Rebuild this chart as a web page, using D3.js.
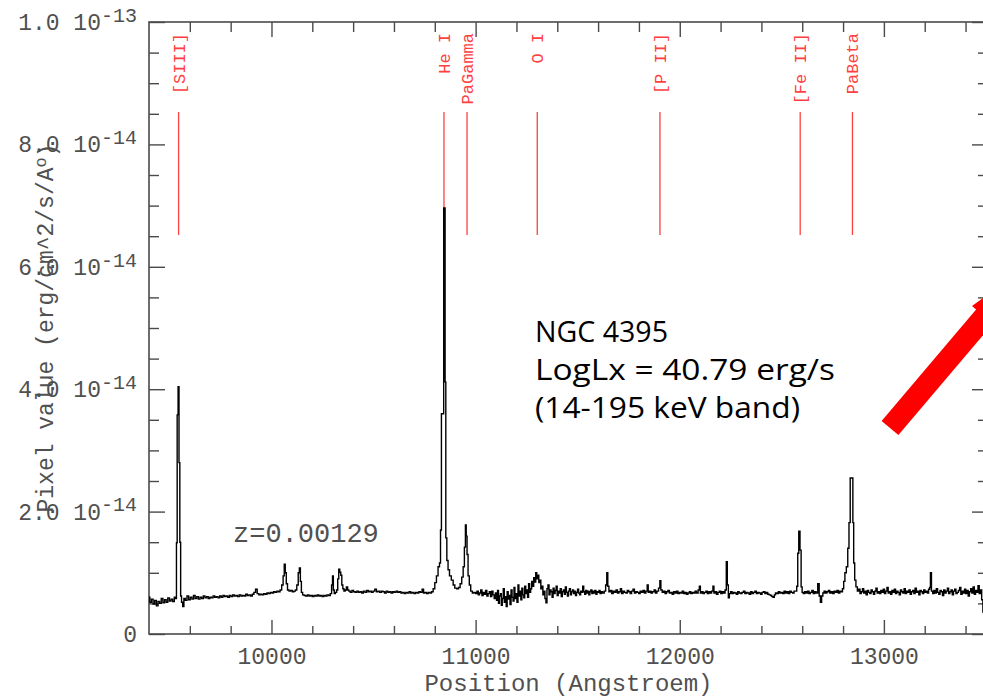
<!DOCTYPE html>
<html>
<head>
<meta charset="utf-8">
<script src="https://cdn.jsdelivr.net/npm/d3@7"></script>
<style>
  body { margin: 0; background: #fff; }
  svg { display: block; }
  .tk { font-family: "Liberation Mono", "DejaVu Sans Mono", monospace; fill: #505050; }
</style>
</head>
<body>
<div id="chart"></div>
<script>
// emission lines marked in red (observed wavelength, Angstrom)
var lineNames = ["[SIII]", "He I", "PaGamma", "O I", "[P II]", "[Fe II]", "PaBeta"];
var lineWaves = [9545, 10845, 10958, 11302, 11903, 12590, 12846];

var xMajor = [10000, 11000, 12000, 13000];
var yMajor = [0, 2, 4, 6, 8, 10];           // flux in units of 1e-14
var yMant  = ["0", "2.0 10", "4.0 10", "6.0 10", "8.0 10", "1.0 10"];
var yExp   = ["", "-14", "-14", "-14", "-14", "-13"];

var noteLines = ["NGC 4395", "LogLx = 40.79 erg/s", "(14-195 keV band)"];

// [wavelength (A), flux (1e-14 erg/cm^2/s/A)]
var spectrum = [
  [9400,0.60],[9408,0.52],[9416,0.57],[9424,0.49],[9432,0.55],[9440,0.46],[9448,0.53],[9456,0.50],
  [9464,0.58],[9472,0.51],[9480,0.56],[9488,0.52],[9496,0.59],[9504,0.54],[9512,0.57],[9520,0.53],
  [9528,0.60],[9533,0.58],[9536,1.49],[9540,3.58],[9545,4.04],[9549,2.80],[9553,1.50],[9557,0.62],
  [9562,0.52],[9568,0.45],[9574,0.58],[9582,0.55],[9590,0.62],[9598,0.56],[9606,0.60],[9614,0.57],
  [9622,0.63],[9630,0.58],[9638,0.61],[9646,0.57],[9654,0.60],[9662,0.58],[9670,0.62],[9678,0.59],
  [9686,0.61],[9694,0.58],[9702,0.60],[9710,0.59],[9718,0.62],[9726,0.60],[9734,0.61],[9742,0.59],
  [9750,0.62],[9758,0.60],[9766,0.63],[9774,0.61],[9782,0.62],[9790,0.60],[9798,0.63],[9806,0.61],
  [9814,0.64],[9822,0.62],[9830,0.63],[9838,0.61],[9846,0.64],[9854,0.62],[9862,0.63],[9870,0.62],
  [9878,0.65],[9886,0.63],[9894,0.64],[9902,0.62],[9910,0.65],[9918,0.68],[9926,0.73],[9934,0.66],
  [9942,0.64],[9950,0.65],[9958,0.64],[9966,0.66],[9974,0.65],[9982,0.67],[9990,0.66],[9998,0.68],
  [10006,0.67],[10014,0.69],[10022,0.68],[10030,0.70],[10038,0.69],[10046,0.72],[10054,0.80],[10060,0.95],
  [10065,1.14],[10070,1.00],[10075,0.82],[10082,0.72],[10090,0.70],[10098,0.71],[10106,0.69],[10114,0.70],
  [10120,0.72],[10128,0.80],[10134,1.00],[10139,1.08],[10144,0.86],[10149,0.68],[10156,0.64],[10164,0.63],
  [10172,0.62],[10180,0.64],[10188,0.62],[10196,0.63],[10204,0.61],[10212,0.63],[10220,0.62],[10228,0.64],
  [10236,0.62],[10244,0.63],[10252,0.61],[10260,0.63],[10268,0.62],[10276,0.64],[10284,0.63],[10292,0.66],
  [10297,0.80],[10301,0.95],[10305,0.72],[10310,0.66],[10316,0.68],[10322,0.72],[10327,0.90],[10332,1.06],
  [10337,1.01],[10342,0.96],[10347,0.80],[10352,0.74],[10358,0.70],[10364,0.72],[10370,0.77],[10376,0.72],
  [10382,0.70],[10390,0.68],[10398,0.71],[10406,0.69],[10414,0.68],[10422,0.70],[10430,0.68],[10438,0.69],
  [10446,0.67],[10454,0.70],[10462,0.68],[10470,0.71],[10478,0.69],[10486,0.70],[10494,0.68],[10502,0.70],
  [10510,0.73],[10518,0.69],[10526,0.70],[10534,0.68],[10542,0.70],[10550,0.69],[10558,0.67],[10566,0.70],
  [10574,0.68],[10582,0.69],[10590,0.67],[10598,0.69],[10606,0.68],[10614,0.70],[10622,0.68],[10630,0.69],
  [10638,0.67],[10646,0.68],[10654,0.66],[10662,0.68],[10670,0.67],[10678,0.69],[10686,0.67],[10694,0.68],
  [10702,0.66],[10710,0.68],[10718,0.67],[10726,0.69],[10734,0.68],[10742,0.73],[10748,0.67],[10756,0.68],
  [10764,0.66],[10772,0.68],[10780,0.67],[10788,0.69],[10796,0.74],[10804,0.84],[10812,0.95],[10820,1.10],
  [10826,1.16],[10830,1.70],[10835,3.60],[10842,3.60],[10845,6.96],[10849,6.96],[10852,4.12],[10856,1.57],
  [10862,1.20],[10868,1.05],[10876,0.95],[10886,0.88],[10894,0.80],[10902,0.75],[10912,0.74],[10920,0.76],
  [10928,0.82],[10936,0.93],[10942,1.10],[10948,1.42],[10952,1.78],[10956,1.60],[10960,1.30],[10966,0.95],
  [10972,0.80],[10980,0.70],[10988,0.67],[10996,0.68],[11004,0.66],[11010,0.70],[11016,0.64],[11022,0.67],
  [11028,0.72],[11034,0.63],[11040,0.68],[11046,0.65],[11052,0.71],[11058,0.62],[11064,0.66],[11070,0.69],
  [11076,0.61],[11082,0.70],[11088,0.64],[11094,0.58],[11100,0.67],[11105,0.55],[11110,0.71],[11114,0.50],
  [11119,0.62],[11124,0.66],[11128,0.47],[11133,0.58],[11138,0.74],[11143,0.52],[11148,0.61],[11152,0.45],
  [11157,0.69],[11162,0.57],[11166,0.63],[11171,0.48],[11176,0.72],[11181,0.60],[11186,0.54],[11190,0.76],
  [11195,0.58],[11200,0.66],[11205,0.52],[11210,0.80],[11214,0.62],[11219,0.70],[11224,0.56],[11229,0.75],
  [11234,0.64],[11238,0.59],[11243,0.78],[11248,0.66],[11252,0.72],[11257,0.60],[11262,0.82],[11267,0.68],
  [11272,0.74],[11277,0.86],[11282,0.78],[11287,0.92],[11292,0.85],[11297,1.00],[11302,0.90],[11307,0.96],
  [11312,0.84],[11317,0.88],[11322,0.74],[11327,0.78],[11332,0.64],[11337,0.70],[11342,0.58],[11347,0.51],
  [11352,0.74],[11357,0.80],[11362,0.64],[11367,0.72],[11372,0.69],[11377,0.60],[11382,0.75],[11387,0.66],
  [11392,0.71],[11397,0.78],[11402,0.63],[11407,0.70],[11412,0.67],[11417,0.74],[11422,0.61],[11427,0.69],
  [11432,0.72],[11437,0.65],[11442,0.77],[11447,0.68],[11452,0.62],[11457,0.70],[11462,0.74],[11467,0.64],
  [11472,0.69],[11477,0.72],[11482,0.66],[11487,0.70],[11492,0.63],[11497,0.68],[11502,0.73],[11507,0.67],
  [11512,0.64],[11517,0.70],[11522,0.68],[11527,0.78],[11532,0.69],[11537,0.65],[11542,0.71],[11547,0.67],
  [11552,0.70],[11557,0.64],[11562,0.69],[11567,0.72],[11572,0.66],[11577,0.70],[11582,0.67],[11587,0.71],
  [11592,0.65],[11597,0.69],[11602,0.68],[11607,0.71],[11612,0.66],[11618,0.69],[11626,0.67],[11634,0.70],
  [11640,0.80],[11645,1.00],[11650,0.78],[11656,0.69],[11664,0.71],[11670,0.66],[11678,0.70],[11684,0.68],
  [11692,0.72],[11698,0.67],[11706,0.69],[11712,0.74],[11718,0.66],[11726,0.70],[11732,0.68],[11740,0.67],
  [11746,0.71],[11754,0.69],[11760,0.66],[11768,0.70],[11774,0.73],[11782,0.67],[11788,0.69],[11796,0.68],
  [11802,0.66],[11810,0.70],[11816,0.68],[11824,0.71],[11830,0.67],[11838,0.70],[11843,0.80],[11848,0.68],
  [11856,0.70],[11862,0.67],[11870,0.69],[11878,0.72],[11884,0.67],[11892,0.70],[11900,0.75],[11905,0.87],
  [11910,0.72],[11918,0.68],[11924,0.70],[11932,0.66],[11938,0.69],[11946,0.71],[11952,0.67],[11960,0.68],
  [11966,0.65],[11974,0.69],[11980,0.67],[11988,0.70],[11994,0.66],[12002,0.68],[12008,0.67],[12016,0.70],
  [12022,0.66],[12030,0.68],[12036,0.65],[12044,0.67],[12050,0.69],[12058,0.66],[12064,0.68],[12072,0.67],
  [12078,0.70],[12086,0.67],[12094,0.72],[12098,0.78],[12104,0.67],[12110,0.69],[12118,0.66],[12124,0.68],
  [12132,0.70],[12138,0.66],[12146,0.69],[12152,0.67],[12160,0.70],[12165,0.78],[12170,0.67],[12176,0.69],
  [12184,0.65],[12190,0.68],[12198,0.70],[12204,0.66],[12212,0.69],[12218,0.67],[12226,0.72],[12230,1.18],
  [12236,0.80],[12240,0.59],[12246,0.66],[12252,0.69],[12260,0.66],[12266,0.68],[12274,0.67],[12280,0.65],
  [12288,0.69],[12294,0.67],[12302,0.66],[12308,0.68],[12316,0.70],[12322,0.66],[12330,0.68],[12336,0.67],
  [12344,0.65],[12350,0.69],[12358,0.66],[12364,0.68],[12372,0.70],[12378,0.66],[12386,0.68],[12392,0.67],
  [12400,0.65],[12406,0.68],[12414,0.69],[12420,0.66],[12428,0.68],[12434,0.65],[12442,0.64],[12448,0.63],
  [12454,0.61],[12460,0.60],[12466,0.64],[12472,0.67],[12480,0.66],[12486,0.69],[12494,0.67],[12500,0.68],
  [12508,0.66],[12514,0.70],[12522,0.67],[12528,0.69],[12536,0.66],[12542,0.70],[12550,0.68],[12556,0.67],
  [12564,0.70],[12570,0.70],[12576,0.78],[12580,1.32],[12586,1.68],[12592,1.37],[12597,0.77],[12602,0.68],
  [12608,0.66],[12616,0.69],[12622,0.67],[12630,0.70],[12636,0.66],[12644,0.68],[12650,0.71],[12658,0.66],
  [12664,0.69],[12672,0.67],[12680,0.82],[12686,0.62],[12692,0.52],[12698,0.62],[12704,0.67],[12710,0.70],
  [12718,0.67],[12724,0.69],[12732,0.71],[12738,0.67],[12746,0.69],[12752,0.66],[12760,0.70],[12766,0.68],
  [12774,0.71],[12780,0.67],[12788,0.70],[12794,0.69],[12800,0.74],[12806,0.86],[12812,1.00],[12820,1.10],
  [12826,1.40],[12832,1.82],[12838,2.55],[12846,2.55],[12850,1.82],[12854,1.16],[12860,0.88],[12866,0.77],
  [12874,0.70],[12880,0.73],[12886,0.66],[12892,0.69],[12898,0.74],[12904,0.67],[12910,0.70],[12916,0.64],
  [12922,0.71],[12928,0.68],[12934,0.66],[12940,0.72],[12946,0.69],[12952,0.65],[12958,0.70],[12964,0.75],
  [12970,0.67],[12976,0.69],[12982,0.66],[12988,0.71],[12994,0.68],[13000,0.73],[13006,0.66],[13012,0.70],
  [13018,0.76],[13024,0.67],[13030,0.69],[13036,0.65],[13042,0.71],[13048,0.68],[13054,0.73],[13060,0.66],
  [13066,0.70],[13072,0.68],[13078,0.64],[13084,0.72],[13090,0.69],[13096,0.67],[13102,0.74],[13108,0.66],
  [13114,0.70],[13120,0.68],[13126,0.72],[13132,0.65],[13138,0.69],[13144,0.71],[13150,0.66],[13156,0.75],
  [13162,0.68],[13168,0.70],[13174,0.64],[13180,0.71],[13186,0.69],[13192,0.66],[13198,0.72],[13204,0.68],
  [13210,0.70],[13216,0.67],[13222,0.73],[13226,0.76],[13230,1.00],[13236,0.70],[13242,0.66],[13248,0.71],
  [13254,0.67],[13260,0.74],[13266,0.68],[13272,0.65],[13278,0.71],[13284,0.69],[13290,0.63],[13296,0.72],
  [13302,0.67],[13308,0.70],[13314,0.75],[13320,0.66],[13326,0.69],[13332,0.72],[13338,0.64],[13344,0.70],
  [13350,0.73],[13356,0.66],[13362,0.68],[13368,0.71],[13374,0.76],[13380,0.65],[13386,0.70],[13392,0.67],
  [13398,0.73],[13404,0.66],[13410,0.71],[13416,0.62],[13422,0.69],[13428,0.74],[13434,0.67],[13440,0.77],
  [13446,0.65],[13452,0.71],[13458,0.68],[13464,0.79],[13470,0.66],[13476,0.72],[13482,0.56],[13488,0.36],
  [13494,0.48]
];

var W = 983, H = 700;
var pLeft = 149, pRight = 988, pTop = 22, pBottom = 634;

var x = d3.scaleLinear().domain([9400, 13510]).range([pLeft, pRight]);
var y = d3.scaleLinear().domain([0, 10]).range([pBottom, pTop]);

var svg = d3.select("#chart").append("svg")
    .attr("width", W)
    .attr("height", H);

var axisColor = "#4a4a4a";

function styleAxis(g) {
  g.select(".domain").remove();
  g.selectAll(".tick line").attr("stroke", axisColor).attr("stroke-width", 1.4);
}

var xMinor = d3.range(9600, 13600, 200).filter(function(v) { return v % 1000 !== 0; });
var yMinor = d3.range(0.5, 10, 0.5).filter(function(v) { return v % 2 !== 0; });

// bottom axis
svg.append("g").attr("transform", "translate(0," + pBottom + ")")
    .call(d3.axisBottom(x).tickValues(xMinor).tickSize(-8).tickFormat(""))
    .call(styleAxis);
var xb = svg.append("g").attr("transform", "translate(0," + pBottom + ")")
    .call(d3.axisBottom(x).tickValues(xMajor).tickSize(-14).tickPadding(14).tickFormat(d3.format("d")))
    .call(styleAxis);
xb.attr("font-family", null).attr("font-size", null);
xb.selectAll("text").attr("class", "tk").attr("fill", null).style("font-size", "23px");

// top axis
svg.append("g").attr("transform", "translate(0," + pTop + ")")
    .call(d3.axisTop(x).tickValues(xMinor).tickSize(-10).tickFormat(""))
    .call(styleAxis);
svg.append("g").attr("transform", "translate(0," + pTop + ")")
    .call(d3.axisTop(x).tickValues(xMajor).tickSize(-15).tickFormat(""))
    .call(styleAxis);

// left axis
svg.append("g").attr("transform", "translate(" + pLeft + ",0)")
    .call(d3.axisLeft(y).tickValues(yMinor).tickSize(-10).tickFormat(""))
    .call(styleAxis);
var yl = svg.append("g").attr("transform", "translate(" + pLeft + ",0)")
    .call(d3.axisLeft(y).tickValues(yMajor).tickSize(-16).tickFormat(""))
    .call(styleAxis);
yl.attr("font-family", null).attr("font-size", null);

yl.selectAll(".tick").each(function(d, i) {
  var t = d3.select(this).append("text")
      .attr("class", "tk")
      .attr("x", -12)
      .attr("dy", "0.33em")
      .attr("text-anchor", "end")
      .style("font-size", "23px");
  t.append("tspan").text(yMant[i]);
  if (yExp[i]) {
    t.append("tspan").attr("dy", "-0.42em").style("font-size", "20px").text(yExp[i]);
  }
});

// right axis
svg.append("g").attr("transform", "translate(" + pRight + ",0)")
    .call(d3.axisRight(y).tickValues(yMinor).tickSize(-10).tickFormat(""))
    .call(styleAxis);
svg.append("g").attr("transform", "translate(" + pRight + ",0)")
    .call(d3.axisRight(y).tickValues(yMajor).tickSize(-16).tickFormat(""))
    .call(styleAxis);

// frame
svg.append("rect")
    .attr("x", pLeft).attr("y", pTop)
    .attr("width", pRight - pLeft).attr("height", pBottom - pTop)
    .attr("fill", "none").attr("stroke", axisColor).attr("stroke-width", 1.6);

// axis titles
svg.append("text").attr("class", "tk")
    .attr("x", (pLeft + pRight) / 2).attr("y", 691)
    .attr("text-anchor", "middle")
    .style("font-size", "24px")
    .text("Position (Angstroem)");

var yt = svg.append("text").attr("class", "tk")
    .attr("transform", "translate(53," + ((pTop + pBottom) / 2) + ") rotate(-90)")
    .attr("text-anchor", "middle")
    .style("font-size", "23px");
yt.append("tspan").text("Pixel value (erg/cm^2/s/A");
yt.append("tspan").attr("dy", "-0.4em").style("font-size", "17px").text("o");
yt.append("tspan").attr("dy", "0.4em").text(")");

// identified lines
var red = "#ff4040";
var marks = svg.append("g");
lineWaves.forEach(function(w, i) {
  marks.append("line")
      .attr("x1", x(w)).attr("x2", x(w))
      .attr("y1", 112).attr("y2", 235)
      .attr("stroke", red).attr("stroke-width", 1.3);
  marks.append("text")
      .attr("transform", "translate(" + (x(w) + 6) + ",33) rotate(-90)")
      .attr("text-anchor", "end")
      .attr("fill", red)
      .style("font-family", "'Liberation Mono', 'DejaVu Sans Mono', monospace")
      .style("font-size", "17px")
      .text(lineNames[i]);
});

// spectrum
svg.append("clipPath").attr("id", "plotclip")
  .append("rect").attr("x", pLeft).attr("y", pTop).attr("width", pRight - pLeft).attr("height", pBottom - pTop);

var specLine = d3.line()
    .x(function(d) { return x(d[0]); })
    .y(function(d) { return y(d[1]); })
    .curve(d3.curveStep);

svg.append("path")
    .datum(spectrum)
    .attr("clip-path", "url(#plotclip)")
    .attr("fill", "none")
    .attr("stroke", "#000")
    .attr("stroke-width", 1.4)
    .attr("d", specLine);

// redshift label
svg.append("text").attr("class", "tk")
    .attr("x", 233).attr("y", 542)
    .style("font-size", "27px")
    .text("z=0.00129");

// annotation
var noteWidths = [133, 300, 265];
var note = svg.append("text")
    .attr("x", 535).attr("y", 342)
    .attr("fill", "#000")
    .style("font-family", "'Open Sans', 'DejaVu Sans', sans-serif")
    .style("font-size", "30px");
noteLines.forEach(function(s, i) {
  note.append("tspan")
      .attr("x", 535)
      .attr("dy", i === 0 ? 0 : 38)
      .attr("textLength", noteWidths[i])
      .attr("lengthAdjust", "spacingAndGlyphs")
      .text(s);
});

// red arrow pointing off to the upper right
svg.append("line")
    .attr("x1", 890).attr("y1", 428)
    .attr("x2", 990).attr("y2", 310)
    .attr("stroke", "#ff0000").attr("stroke-width", 22);
svg.append("polygon")
    .attr("points", "972,306 1002,332 1032,262")
    .attr("fill", "#ff0000");
</script>
</body>
</html>
